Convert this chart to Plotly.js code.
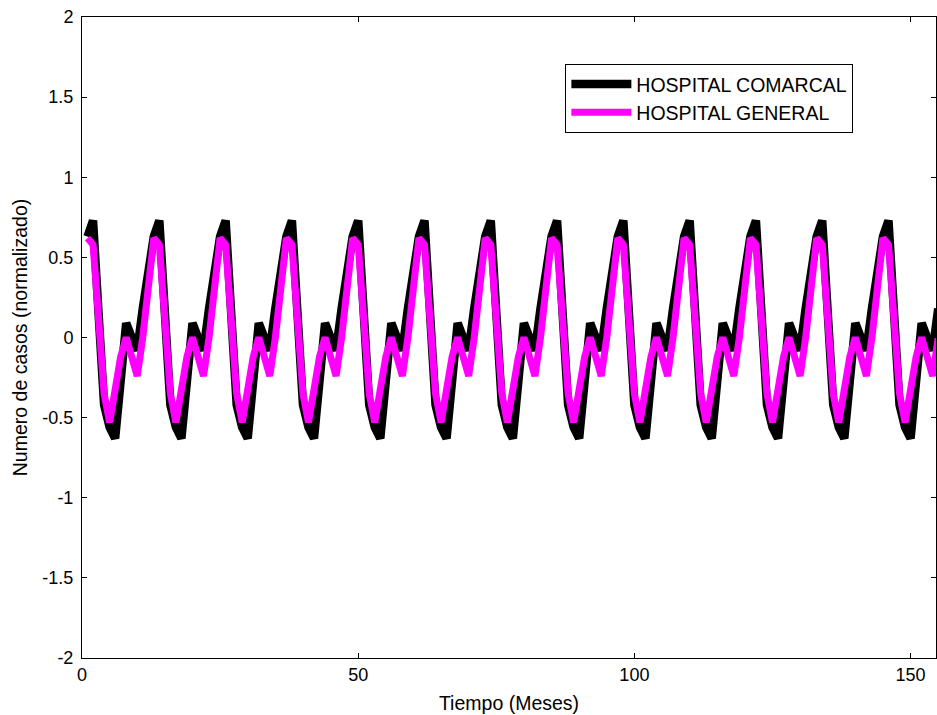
<!DOCTYPE html>
<html>
<head>
<meta charset="utf-8">
<script src="https://cdn.plot.ly/plotly-3.0.1.min.js"></script>
<style>
  html, body { margin: 0; padding: 0; background: #fff; }
  #chart { width: 937px; height: 715px; }
</style>
</head>
<body>
<div id="chart"></div>
<script>
// Time axis (months)
const months = Array.from({ length: 155 }, (_, i) => i + 1);

// HOSPITAL COMARCAL (normalized cases)
const comarcal = [
  0.63, 0.73, 0.15, -0.42, -0.56, -0.63, -0.27, 0.09, 0.00, -0.08, 0.18, 0.42,
  0.63, 0.73, 0.15, -0.42, -0.56, -0.63, -0.27, 0.09, 0.00, -0.08, 0.18, 0.42,
  0.63, 0.73, 0.15, -0.42, -0.56, -0.63, -0.27, 0.09, 0.00, -0.08, 0.18, 0.42,
  0.63, 0.73, 0.15, -0.42, -0.56, -0.63, -0.27, 0.09, 0.00, -0.08, 0.18, 0.42,
  0.63, 0.73, 0.15, -0.42, -0.56, -0.63, -0.27, 0.09, 0.00, -0.08, 0.18, 0.42,
  0.63, 0.73, 0.15, -0.42, -0.56, -0.63, -0.27, 0.09, 0.00, -0.08, 0.18, 0.42,
  0.63, 0.73, 0.15, -0.42, -0.56, -0.63, -0.27, 0.09, 0.00, -0.08, 0.18, 0.42,
  0.63, 0.73, 0.15, -0.42, -0.56, -0.63, -0.27, 0.09, 0.00, -0.08, 0.18, 0.42,
  0.63, 0.73, 0.15, -0.42, -0.56, -0.63, -0.27, 0.09, 0.00, -0.08, 0.18, 0.42,
  0.63, 0.73, 0.15, -0.42, -0.56, -0.63, -0.27, 0.09, 0.00, -0.08, 0.18, 0.42,
  0.63, 0.73, 0.15, -0.42, -0.56, -0.63, -0.27, 0.09, 0.00, -0.08, 0.18, 0.42,
  0.63, 0.73, 0.15, -0.42, -0.56, -0.63, -0.27, 0.09, 0.00, -0.08, 0.18, 0.42,
  0.63, 0.73, 0.15, -0.42, -0.56, -0.63, -0.27, 0.09, 0.00, -0.08, 0.18
];

// HOSPITAL GENERAL (normalized cases)
const general = [
  0.62, 0.58, 0.12, -0.35, -0.53, -0.30, -0.12, 0.00, -0.12, -0.24, 0.00, 0.32,
  0.62, 0.58, 0.12, -0.35, -0.53, -0.30, -0.12, 0.00, -0.12, -0.24, 0.00, 0.32,
  0.62, 0.58, 0.12, -0.35, -0.53, -0.30, -0.12, 0.00, -0.12, -0.24, 0.00, 0.32,
  0.62, 0.58, 0.12, -0.35, -0.53, -0.30, -0.12, 0.00, -0.12, -0.24, 0.00, 0.32,
  0.62, 0.58, 0.12, -0.35, -0.53, -0.30, -0.12, 0.00, -0.12, -0.24, 0.00, 0.32,
  0.62, 0.58, 0.12, -0.35, -0.53, -0.30, -0.12, 0.00, -0.12, -0.24, 0.00, 0.32,
  0.62, 0.58, 0.12, -0.35, -0.53, -0.30, -0.12, 0.00, -0.12, -0.24, 0.00, 0.32,
  0.62, 0.58, 0.12, -0.35, -0.53, -0.30, -0.12, 0.00, -0.12, -0.24, 0.00, 0.32,
  0.62, 0.58, 0.12, -0.35, -0.53, -0.30, -0.12, 0.00, -0.12, -0.24, 0.00, 0.32,
  0.62, 0.58, 0.12, -0.35, -0.53, -0.30, -0.12, 0.00, -0.12, -0.24, 0.00, 0.32,
  0.62, 0.58, 0.12, -0.35, -0.53, -0.30, -0.12, 0.00, -0.12, -0.24, 0.00, 0.32,
  0.62, 0.58, 0.12, -0.35, -0.53, -0.30, -0.12, 0.00, -0.12, -0.24, 0.00, 0.32,
  0.62, 0.58, 0.12, -0.35, -0.53, -0.30, -0.12, 0.00, -0.12, -0.24, 0.00
];

// Tick labels
const xTickVals = [0, 50, 100, 150];
const xTickText = ['0', '50', '100', '150'];
const yTickVals = [-2, -1.5, -1, -0.5, 0, 0.5, 1, 1.5, 2];
const yTickText = ['-2', '-1.5', '-1', '-0.5', '0', '0.5', '1', '1.5', '2'];

const FONT = 'Liberation Sans, Arial, Helvetica, sans-serif';

const traces = [
  {
    x: months, y: comarcal, type: 'scatter', mode: 'lines',
    name: 'HOSPITAL COMARCAL',
    line: { color: '#000000', width: 8.5 }
  },
  {
    x: months, y: general, type: 'scatter', mode: 'lines',
    name: 'HOSPITAL GENERAL',
    line: { color: '#ff00ff', width: 7 }
  }
];

const axisCommon = {
  showline: true, linecolor: '#000', linewidth: 1, mirror: 'ticks',
  ticks: 'inside', ticklen: 5, tickcolor: '#000', tickwidth: 1,
  showgrid: false, zeroline: false,
  tickfont: { family: FONT, size: 18, color: '#000' }
};

const layout = {
  width: 937, height: 715,
  margin: { l: 82, r: 1, t: 17, b: 57 },
  paper_bgcolor: '#fff', plot_bgcolor: '#fff',
  font: { family: FONT, color: '#000' },
  showlegend: true,
  legend: {
    x: 0.566, y: 0.927, xanchor: 'left', yanchor: 'top',
    bgcolor: '#fff', bordercolor: '#000', borderwidth: 1,
    font: { family: FONT, size: 19.5, color: '#000' },
    itemwidth: 60, tracegroupgap: 0
  },
  xaxis: Object.assign({}, axisCommon, {
    range: [0, 154.6],
    tickvals: xTickVals, ticktext: xTickText,
    title: { text: 'Tiempo (Meses)', font: { family: FONT, size: 19.5, color: '#000' }, standoff: 12 }
  }),
  yaxis: Object.assign({}, axisCommon, {
    range: [-2, 2],
    tickvals: yTickVals, ticktext: yTickText,
    ticklabelstandoff: 4,
    title: { text: 'Numero de casos (normalizado)', font: { family: FONT, size: 19.5, color: '#000' }, standoff: 9 }
  })
};

Plotly.newPlot('chart', traces, layout, { displayModeBar: false, staticPlot: true });
</script>
</body>
</html>
